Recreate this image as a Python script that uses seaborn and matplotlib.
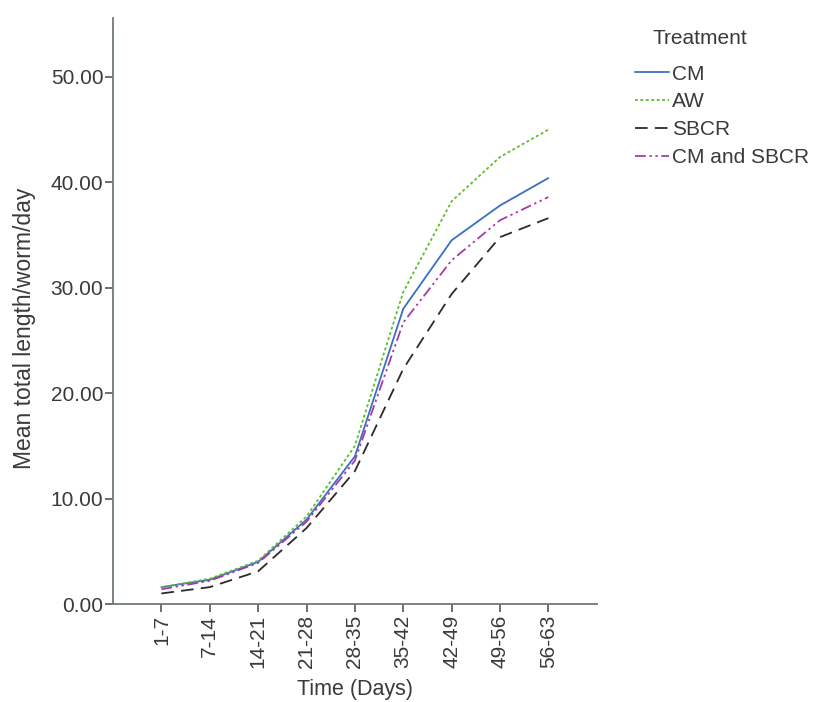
import numpy as np
import pandas as pd
import matplotlib
matplotlib.use("Agg")
import matplotlib.pyplot as plt
import seaborn as sns

# values
periods = ['1-7', '7-14', '14-21', '21-28', '28-35', '35-42', '42-49', '49-56', '56-63']
cm = [1.6, 2.3, 4.0, 8.0, 14.0, 28.0, 34.5, 37.8, 40.4]
aw = [1.6, 2.4, 4.1, 8.3, 15.0, 29.6, 38.2, 42.4, 45.0]
sbcr = [1.0, 1.6, 3.1, 7.2, 12.6, 22.3, 29.4, 34.8, 36.6]
cm_sbcr = [1.4, 2.2, 3.9, 7.8, 13.6, 26.7, 32.6, 36.4, 38.6]
treatments = ['CM', 'AW', 'SBCR', 'CM and SBCR']

df = pd.DataFrame({
    'Time': periods * 4,
    'Value': cm + aw + sbcr + cm_sbcr,
    'Treatment': np.repeat(treatments, len(periods)),
})
df['pos'] = df['Time'].map({p: i for i, p in enumerate(periods)})

sns.set_style("white")
plt.rcParams['font.family'] = ['Liberation Sans', 'DejaVu Sans']

palette = {'CM': '#3a6fc4', 'AW': '#5cbf2a', 'SBCR': '#2b2b2b', 'CM and SBCR': '#a83aa8'}
dashes = {'CM': '', 'AW': (1.6, 1.4), 'SBCR': (7, 4), 'CM and SBCR': (6, 2, 1.3, 2, 1.3, 2)}

fig = plt.figure(figsize=(8.13, 7.02), dpi=100)
ax = fig.add_axes([0.139, 0.1396, 0.595, 0.835])

sns.lineplot(data=df, x='pos', y='Value', hue='Treatment', style='Treatment',
             palette=palette, dashes=dashes, hue_order=treatments, style_order=treatments,
             linewidth=1.3, ax=ax, sort=False)

ax.set_xlim(-1, 9)
ax.set_ylim(0, 55.6)
ax.set_xticks(range(len(periods)))
ax.set_xticklabels(periods, rotation=90)
ax.set_yticks([0, 10, 20, 30, 40, 50])
ax.set_yticklabels(['%.2f' % v for v in [0, 10, 20, 30, 40, 50]])
ax.tick_params(axis='both', labelsize=15, labelcolor='#3a3a3a', color='#555555',
               direction='out', length=6, width=1.2, left=True, bottom=True)
ax.tick_params(axis='x', pad=2)
ax.tick_params(axis='y', pad=1)
for s in ['top', 'right']:
    ax.spines[s].set_visible(False)
for s in ['left', 'bottom']:
    ax.spines[s].set_color('#6f7a7a')
    ax.spines[s].set_linewidth(1.3)

ax.set_xlabel('Time (Days)', fontsize=15.5, color='#3a3a3a')
ax.xaxis.set_label_coords(0.5, -0.128)
ax.set_ylabel('Mean total length/worm/day', fontsize=16.5, color='#3a3a3a')
ax.yaxis.set_label_coords(-0.16, 0.471)

handles, labels = ax.get_legend_handles_labels()
ax.legend(handles, labels, loc='upper left', bbox_to_anchor=(0.781, 0.908),
          bbox_transform=fig.transFigure, frameon=False, fontsize=15,
          handlelength=1.65, handletextpad=0.15, labelspacing=0.42,
          labelcolor='#3a3a3a', borderpad=0, borderaxespad=0)
fig.text(0.802, 0.945, 'Treatment', fontsize=15, color='#3a3a3a', va='center', ha='left')

fig.savefig('out.png', dpi=100)
